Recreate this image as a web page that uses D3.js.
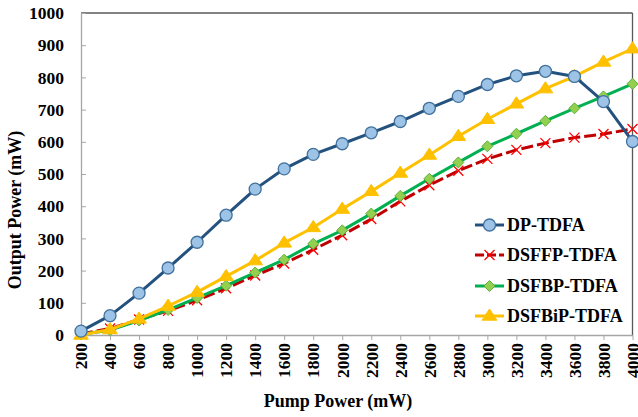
<!DOCTYPE html>
<html>
<head>
<meta charset="utf-8">
<script src="https://cdn.jsdelivr.net/npm/d3@7"></script>
<style>
  html, body { margin: 0; padding: 0; background: #fff; }
  svg { display: block; }
</style>
</head>
<body>
<svg id="chart" width="638" height="417"></svg>
<script>
// Pump power levels (mW)
const pumpPower = [200, 400, 600, 800, 1000, 1200, 1400, 1600, 1800, 2000,
                   2200, 2400, 2600, 2800, 3000, 3200, 3400, 3600, 3800, 4000];

// Output power (mW) for each amplifier configuration
const dpTDFA     = [12, 60, 130, 208, 288, 372, 453, 516, 561, 594, 628, 663, 704, 741, 778, 805, 819, 803, 725, 601];
const dsffpTDFA  = [3, 20, 48, 75, 108, 145, 185, 222, 265, 310, 360, 415, 465, 510, 547, 575, 596, 613, 624, 640];
const dsfbpTDFA  = [2, 15, 45, 78, 115, 153, 194, 234, 283, 325, 377, 432, 485, 536, 586, 625, 665, 704, 741, 780];
const dsfbipTDFA = [0, 17, 50, 90, 133, 182, 231, 286, 334, 391, 446, 503, 559, 617, 670, 718, 765, 803, 848, 889];

const yTicks = [0, 100, 200, 300, 400, 500, 600, 700, 800, 900, 1000];

const seriesNames = ["DP-TDFA", "DSFFP-TDFA", "DSFBP-TDFA", "DSFBiP-TDFA"];

const series = [
  { name: seriesNames[0], values: dpTDFA,     line: "#24527F", dash: null,   marker: "circle",   fill: "#9DC3E6", stroke: "#41719C" },
  { name: seriesNames[1], values: dsffpTDFA,  line: "#C00000", dash: "12,4", marker: "cross",    fill: "none",    stroke: "#FF0000" },
  { name: seriesNames[2], values: dsfbpTDFA,  line: "#00B050", dash: null,   marker: "diamond",  fill: "#92D050", stroke: "#5FAF3A" },
  { name: seriesNames[3], values: dsfbipTDFA, line: "#FFC000", dash: null,   marker: "triangle", fill: "#FFC000", stroke: "#FFC000" }
];

const FONT = '"Liberation Serif", "Times New Roman", serif';

// Apply the bold serif text style inline
function serif(sel, size) {
  return sel.style("font-family", FONT).style("font-weight", "bold")
    .style("font-size", size + "px").style("fill", "#000");
}

const svg = d3.select("#chart");
const margin = { left: 81, right: 5.5, top: 13, bottom: 82 };
const W = 638, H = 417;
const x0 = margin.left, x1 = W - margin.right;
const y0 = H - margin.bottom, y1 = margin.top;

const x = d3.scalePoint().domain(pumpPower).range([x0, x1]);
const y = d3.scaleLinear().domain([0, 1000]).range([y0, y1]);

// Frame: top and right borders
svg.append("line").attr("x1", x0).attr("x2", x1).attr("y1", y1).attr("y2", y1)
  .attr("stroke", "#595959").attr("stroke-width", 1.3);
svg.append("line").attr("x1", x1).attr("x2", x1).attr("y1", y1).attr("y2", y0)
  .attr("stroke", "#595959").attr("stroke-width", 1.3);

// Y axis (ticks point inward)
const yAxis = svg.append("g").attr("transform", `translate(${x0},0)`)
  .call(d3.axisLeft(y).tickValues(yTicks).tickFormat(d3.format("d"))
    .tickSizeInner(-5).tickSizeOuter(0).tickPadding(17));
yAxis.select(".domain").attr("stroke", "#A6A6A6").attr("stroke-width", 1.3);
yAxis.selectAll(".tick line").attr("stroke", "#A6A6A6").attr("stroke-width", 1);
serif(yAxis.selectAll(".tick text"), 17.5);

// X axis with rotated labels
const xAxis = svg.append("g").attr("transform", `translate(0,${y0})`)
  .call(d3.axisBottom(x).tickFormat(d3.format("d")).tickSizeInner(5).tickSizeOuter(0));
xAxis.select(".domain").attr("stroke", "#A6A6A6").attr("stroke-width", 1.3);
xAxis.selectAll(".tick line").attr("stroke", "#A6A6A6").attr("stroke-width", 1);
serif(xAxis.selectAll(".tick text"), 17.5)
  .attr("transform", "rotate(-90)")
  .attr("text-anchor", "end")
  .attr("x", -8).attr("y", 0).attr("dy", "0.33em");

// Axis titles
serif(svg.append("text"), 18).attr("x", 338).attr("y", 407).attr("text-anchor", "middle")
  .text("Pump Power (mW)");
serif(svg.append("text"), 18).attr("transform", "translate(21,210) rotate(-90)").attr("text-anchor", "middle")
  .text("Output Power (mW)");

// Marker drawing
function drawMarker(g, s, cx, cy) {
  if (s.marker === "circle") {
    g.append("circle").attr("cx", cx).attr("cy", cy).attr("r", 6)
      .attr("fill", s.fill).attr("stroke", s.stroke).attr("stroke-width", 1.3);
  } else if (s.marker === "cross") {
    const r = 5;
    g.append("path").attr("d", `M${cx - r},${cy - r}L${cx + r},${cy + r}M${cx - r},${cy + r}L${cx + r},${cy - r}`)
      .attr("stroke", s.stroke).attr("stroke-width", 1.3).attr("fill", "none");
  } else if (s.marker === "diamond") {
    const r = 5.5;
    g.append("path").attr("d", `M${cx},${cy - r}L${cx + r},${cy}L${cx},${cy + r}L${cx - r},${cy}Z`)
      .attr("fill", s.fill).attr("stroke", s.stroke).attr("stroke-width", 1);
  } else if (s.marker === "triangle") {
    const r = 7;
    g.append("path").attr("d", `M${cx},${cy - r}L${cx + r * 1.05},${cy + r * 0.6}L${cx - r * 1.05},${cy + r * 0.6}Z`)
      .attr("fill", s.fill).attr("stroke", s.stroke).attr("stroke-width", 1);
  }
}

const line = d3.line().x((d, i) => x(pumpPower[i])).y(d => y(d));

// Draw in order so the DP curve sits on top
const drawOrder = [1, 2, 3, 0];
drawOrder.forEach(k => {
  const s = series[k];
  const g = svg.append("g");
  g.append("path").datum(s.values).attr("d", line)
    .attr("fill", "none").attr("stroke", s.line).attr("stroke-width", 3)
    .attr("stroke-dasharray", s.dash).attr("stroke-linejoin", "round");
  s.values.forEach((v, i) => drawMarker(g, s, x(pumpPower[i]), y(v)));
});

// Legend
const legY = [225, 255, 286, 316];
series.forEach((s, i) => {
  const g = svg.append("g");
  const ly = legY[i];
  g.append("line").attr("x1", 475).attr("x2", 504).attr("y1", ly).attr("y2", ly)
    .attr("stroke", s.line).attr("stroke-width", 3).attr("stroke-dasharray", s.dash ? "9,3" : null);
  drawMarker(g, s, 489.5, ly);
  serif(g.append("text"), 18).attr("x", 507).attr("y", ly).attr("dy", "0.35em")
    .text(s.name);
});
</script>
</body>
</html>
